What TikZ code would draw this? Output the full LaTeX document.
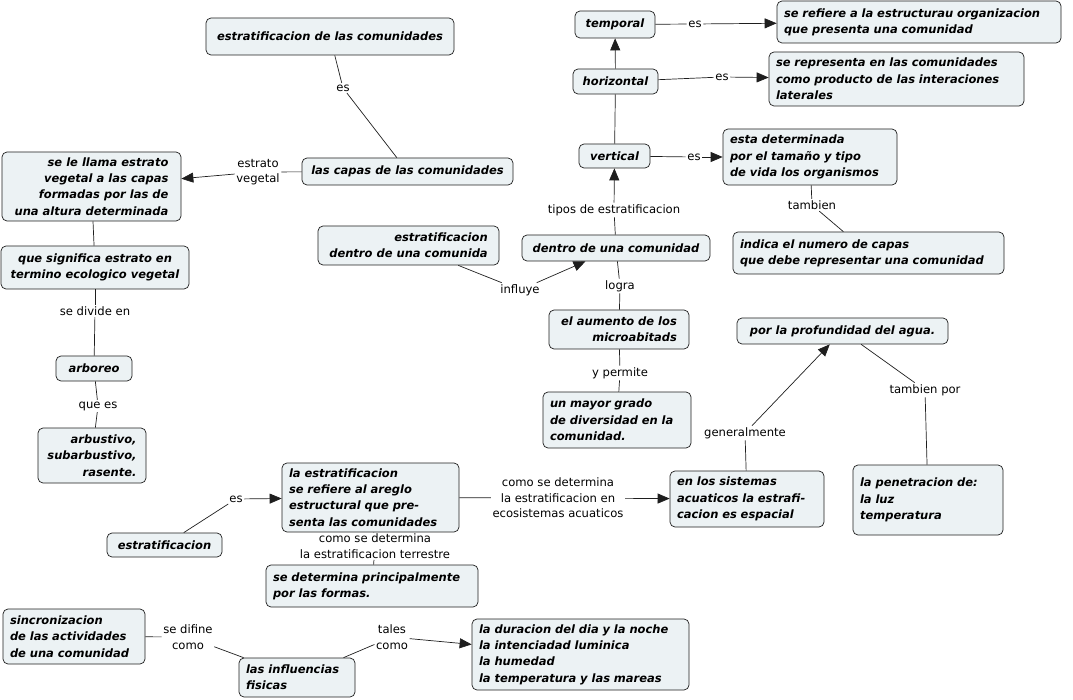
\documentclass[tikz,border=0pt]{standalone}
\usepackage{fontspec}
\setmainfont{DejaVu Sans}
\usetikzlibrary{arrows.meta}
\definecolor{boxfill}{RGB}{236,242,244}
\definecolor{edge}{RGB}{30,30,30}
\newcommand{\nodefnt}{\fontsize{11.5}{16.3}\selectfont\bfseries\itshape}
\newcommand{\lblfnt}{\fontsize{11.6}{15.4}\selectfont}
\tikzset{
  concept/.style={draw=edge, fill=boxfill, rounded corners=5pt, font=\nodefnt, inner sep=0pt, line width=0.7pt},
  lt/.style={align=left, text width=#1},
  lbl/.style={font=\lblfnt, inner sep=1.5pt, align=center},
  conn/.style={draw=edge, line width=0.7pt},
  arr/.style={conn, -{Triangle[length=12pt,width=10pt]}}
}
\begin{document}
\begin{tikzpicture}[x=1pt,y=-1pt]
\useasboundingbox (0,0) rectangle (1073,700);
% concepts
\node[concept, minimum width=248pt, minimum height=37pt, align=center] (estcom) at (330,36.5) {estratificacion de las comunidades};
\node[concept, minimum width=211pt, minimum height=27pt, align=center] (capas) at (407.5,171.5) {las capas de las comunidades};
\node[concept, minimum width=179pt, minimum height=69pt, align=right] (llama) at (91.5,186.5) {se le llama estrato\\vegetal a las capas\\formadas por las de\\una altura determinada};
\node[concept, minimum width=188pt, minimum height=43pt, align=center] (signif) at (95,267.5) {que significa estrato en\\termino ecologico vegetal};
\node[concept, minimum width=76pt, minimum height=25pt, align=center] (arboreo) at (94,368.5) {arboreo};
\node[concept, minimum width=108pt, minimum height=55pt, align=right] (arbust) at (92,455.5) {arbustivo,\\subarbustivo,\\rasente.};
\node[concept, minimum width=80pt, minimum height=27pt, align=center] (temporal) at (615,24.5) {temporal};
\node[concept, minimum width=284pt, minimum height=42pt, lt=270pt] (refestr) at (919,22) {se refiere a la estructurau organizacion\\que presenta una comunidad};
\node[concept, minimum width=85pt, minimum height=25pt, align=center] (horiz) at (615.5,81.5) {horizontal};
\node[concept, minimum width=255pt, minimum height=54pt, lt=241pt] (repr) at (896.5,79) {se representa en las comunidades\\como producto de las interaciones\\laterales};
\node[concept, minimum width=71pt, minimum height=24pt, align=center] (vert) at (614.5,156) {vertical};
\node[concept, minimum width=174pt, minimum height=56pt, lt=160pt] (estadet) at (810,157) {esta determinada\\por el tamaño y tipo\\de vida los organismos};
\node[concept, minimum width=271pt, minimum height=42pt, lt=257pt] (indica) at (868.5,253) {indica el numero de capas\\que debe representar una comunidad};
\node[concept, minimum width=188pt, minimum height=26pt, align=center] (dentro) at (616,248) {dentro de una comunidad};
\node[concept, minimum width=181pt, minimum height=39pt, align=right] (estdentro) at (408.5,245.5) {estratificacion\\dentro de una comunida};
\node[concept, minimum width=140pt, minimum height=39pt, align=right] (aumento) at (619,329.5) {el aumento de los\\microabitads};
\node[concept, minimum width=148pt, minimum height=56pt, lt=134pt] (mayor) at (617,420) {un mayor grado\\de diversidad en la\\comunidad.};
\node[concept, minimum width=211pt, minimum height=26pt, align=center] (profund) at (842.5,331) {por la profundidad del agua.};
\node[concept, minimum width=154pt, minimum height=56pt, lt=140pt] (sistemas) at (747,499) {en los sistemas\\acuaticos la estrafi-\\cacion es espacial};
\node[concept, minimum width=150pt, minimum height=70pt, lt=136pt] (penetr) at (928,500) {la penetracion de:\\la luz\\temperatura};
\node[concept, minimum width=177pt, minimum height=69pt, lt=163pt] (laestr) at (370.5,497.5) {la estratificacion\\se refiere al areglo\\estructural que pre-\\senta las comunidades};
\node[concept, minimum width=115pt, minimum height=24pt, align=center] (estratif) at (164.5,545) {estratificacion};
\node[concept, minimum width=212pt, minimum height=42pt, lt=198pt] (sedet) at (372,586) {se determina principalmente\\por las formas.};
\node[concept, minimum width=142pt, minimum height=55pt, lt=128pt] (sincron) at (74,636.5) {sincronizacion\\de las actividades\\de una comunidad};
\node[concept, minimum width=116pt, minimum height=39pt, lt=102pt] (influ) at (297,677.5) {las influencias\\fisicas};
\node[concept, minimum width=217pt, minimum height=71pt, lt=203pt] (duracion) at (580.5,654.5) {la duracion del dia y la noche\\la intenciadad luminica\\la humedad\\la temperatura y las mareas};
% labels
\node[lbl] (l1) at (343,88) {es};
\node[lbl] (l2) at (258,172) {estrato\\vegetal};
\node[lbl] (l3) at (95,311) {se divide en};
\node[lbl] (l4) at (98,406) {que es};
\node[lbl] (l5) at (695,24) {es};
\node[lbl] (l6) at (722,77) {es};
\node[lbl] (l7) at (694,157) {es};
\node[lbl] (l8) at (812,205) {tambien};
\node[lbl] (l9) at (614,210) {tipos de estratificacion};
\node[lbl] (l10) at (520,290) {influye};
\node[lbl] (l11) at (620,286) {logra};
\node[lbl] (l12) at (620,373) {y permite};
\node[lbl] (l13) at (745,433) {generalmente};
\node[lbl] (l14) at (925,390) {tambien por};
\node[lbl] (l15) at (236,499) {es};
\node[lbl] (l16) at (558,498) {como se determina\\la estratificacion en\\ecosistemas acuaticos};
\node[lbl] (l17) at (375,546) {como se determina\\la estratificacion terrestre};
\node[lbl] (l18) at (188,637) {se difine\\como};
\node[lbl] (l19) at (392,637) {tales\\como};
% connectors
\draw[conn] (estcom) -- (l1); \draw[conn] (l1) -- (capas);
\draw[conn] (capas) -- (l2); \draw[arr] (l2) -- (llama);
\draw[conn] (llama) -- (signif);
\draw[conn] (signif) -- (l3); \draw[conn] (l3) -- (arboreo);
\draw[conn] (arboreo) -- (l4); \draw[conn] (l4) -- (arbust);
\draw[conn] (vert) -- (horiz);
\draw[arr] (horiz) -- (temporal);
\draw[conn] (temporal) -- (l5); \draw[arr] (l5) -- (refestr);
\draw[conn] (horiz) -- (l6); \draw[arr] (l6) -- (repr);
\draw[conn] (vert) -- (l7); \draw[arr] (l7) -- (estadet);
\draw[conn] (estadet) -- (l8); \draw[conn] (l8) -- (indica);
\draw[conn] (dentro) -- (l9); \draw[arr] (l9) -- (vert);
\draw[conn] (estdentro) -- (l10); \draw[arr] (l10) -- (dentro);
\draw[conn] (dentro) -- (l11); \draw[conn] (l11) -- (aumento);
\draw[conn] (aumento) -- (l12); \draw[conn] (l12) -- (mayor);
\draw[conn] (sistemas) -- (l13); \draw[arr] (l13) -- (profund);
\draw[conn] (profund) -- (l14); \draw[conn] (l14) -- (penetr);
\draw[conn] (estratif) -- (l15); \draw[arr] (l15) -- (laestr);
\draw[conn] (laestr) -- (l16); \draw[arr] (l16) -- (sistemas);
\draw[conn] (laestr) -- (l17); \draw[conn] (l17) -- (sedet);
\draw[conn] (sincron) -- (l18); \draw[conn] (l18) -- (influ);
\draw[conn] (influ) -- (l19); \draw[arr] (l19) -- (duracion);
\end{tikzpicture}
\end{document}
